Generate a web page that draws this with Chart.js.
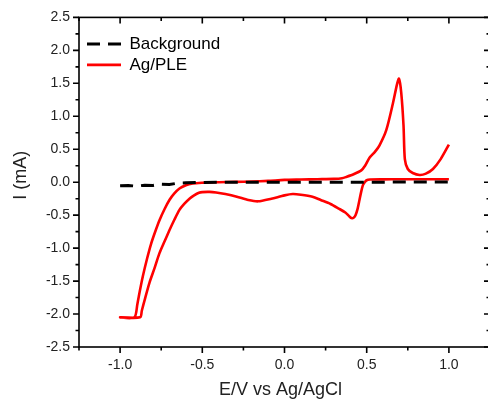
<!DOCTYPE html>
<html>
<head>
<meta charset="utf-8">
<script src="https://cdn.jsdelivr.net/npm/chart.js@4.4.1/dist/chart.umd.min.js"></script>
<style>
  html, body { margin: 0; padding: 0; overflow: hidden; background: #fff; }
  canvas { display: block; }
</style>
</head>
<body>
<canvas id="cv-chart" width="492" height="399"></canvas>
<script>
// Background scan (black dashed)
const backgroundPotential = [-1.0, -0.95, -0.9, -0.85, -0.8, -0.75, -0.7, -0.65, -0.6, -0.5, -0.25, 0.0, 0.25, 0.5, 0.75, 1.0];
const backgroundCurrent = [-0.055, -0.05, -0.06, -0.045, -0.05, -0.03, -0.035, -0.015, -0.01, -0.003, 0.0, 0.0, 0.0, 0.0, 0.002, 0.004];

// Ag/PLE scan, in recording order: cathodic sweep from +1.0 V, then anodic sweep back to +1.0 V
const agPotential = [
  1.0, 0.9, 0.8, 0.7, 0.6, 0.52, 0.5, 0.488, 0.477, 0.466, 0.456, 0.445, 0.432, 0.42, 0.408,
  0.395, 0.37, 0.33, 0.28, 0.22, 0.17, 0.1, 0.05, 0.0, -0.08, -0.16, -0.22, -0.29, -0.36, -0.416,
  -0.456, -0.5, -0.52, -0.55, -0.578, -0.61, -0.639, -0.67, -0.7, -0.73, -0.761, -0.79, -0.822,
  -0.85, -0.868, -0.878, -1.0,
  -0.913, -0.895, -0.88, -0.862, -0.835, -0.811, -0.785, -0.761, -0.73, -0.7, -0.67, -0.639,
  -0.6, -0.558, -0.5, -0.45, -0.4, -0.3, -0.2, -0.1, 0.0, 0.1, 0.2, 0.3, 0.35, 0.376, 0.42,
  0.467, 0.49, 0.517, 0.55, 0.578, 0.619, 0.659, 0.684, 0.696, 0.71, 0.724, 0.732, 0.75, 0.78,
  0.822, 0.86, 0.903, 0.95, 1.0
];
const agCurrent = [
  0.045, 0.045, 0.045, 0.045, 0.043, 0.04, 0.03, 0.0, -0.045, -0.15, -0.27, -0.4, -0.5, -0.54, -0.545,
  -0.52, -0.46, -0.4, -0.33, -0.27, -0.22, -0.19, -0.18, -0.2, -0.25, -0.29, -0.27, -0.22, -0.18, -0.156,
  -0.147, -0.15, -0.16, -0.2, -0.25, -0.33, -0.42, -0.57, -0.73, -0.9, -1.08, -1.3, -1.53,
  -1.78, -1.95, -2.05, -2.05,
  -2.05, -1.85, -1.65, -1.43, -1.15, -0.93, -0.74, -0.58, -0.41, -0.27, -0.17, -0.096,
  -0.045, -0.02, -0.008, -0.003, 0.0, 0.005, 0.01, 0.02, 0.035, 0.04, 0.045, 0.05, 0.06, 0.08, 0.12,
  0.18, 0.25, 0.37, 0.46, 0.56, 0.79, 1.19, 1.48, 1.57, 1.36, 0.86, 0.35, 0.2, 0.14,
  0.11, 0.13, 0.2, 0.35, 0.57
];

const xTicks = [-1.0, -0.5, 0.0, 0.5, 1.0];
const yTicks = [-2.5, -2.0, -1.5, -1.0, -0.5, 0.0, 0.5, 1.0, 1.5, 2.0, 2.5];

function toPoints(xs, ys) {
  return xs.map((x, i) => ({ x: x, y: ys[i] }));
}

const fontFamily = "Arial, 'Liberation Sans', sans-serif";

// draw an axis title a few pixels off its usual centre
function shiftTitle(scale, dx, dy) {
  scale.drawTitle = function () {
    const box = { left: this.left, right: this.right, top: this.top, bottom: this.bottom };
    this.left += dx; this.right += dx;
    this.top += dy; this.bottom += dy;
    Object.getPrototypeOf(this).drawTitle.call(this);
    Object.assign(this, box);
  };
}

// box around the plot with Origin-style ticks (out on left/bottom, in on top/right)
const framePlugin = {
  id: 'frame',
  afterLayout(chart) {
    shiftTitle(chart.scales.x, -4, 0);
    shiftTitle(chart.scales.y, 0, -7);
  },
  beforeDraw(chart) {
    // legend sits inside the plot, top-left
    const legend = chart.legend;
    legend.left = chart.chartArea.left + 4;
    legend.top = chart.chartArea.top + 14;
  },
  afterDatasetsDraw(chart) {
    const { ctx, chartArea: a, scales } = chart;
    const x = scales.x;
    const y = scales.y;
    ctx.save();
    ctx.strokeStyle = '#000';
    ctx.lineWidth = 1.6;
    ctx.strokeRect(a.left, a.top, a.right - a.left, a.bottom - a.top);

    ctx.beginPath();
    for (let i = -5; i <= 5; i++) {
      const px = x.getPixelForValue(i * 0.25);
      const len = i % 2 === 0 ? 6 : 3.5;
      ctx.moveTo(px, a.bottom);
      ctx.lineTo(px, a.bottom + len);
      ctx.moveTo(px, a.top);
      ctx.lineTo(px, a.top + len);
    }
    for (let i = -10; i <= 10; i++) {
      const py = y.getPixelForValue(i * 0.25);
      const len = i % 2 === 0 ? 6 : 3.5;
      ctx.moveTo(a.left, py);
      ctx.lineTo(a.left - len, py);
      ctx.moveTo(a.right, py);
      ctx.lineTo(a.right - len, py);
    }
    ctx.stroke();
    ctx.restore();
  }
};

const data = {
  datasets: [
    {
      label: 'Background',
      data: toPoints(backgroundPotential, backgroundCurrent),
      showLine: true,
      borderColor: '#000',
      backgroundColor: '#000',
      borderWidth: 3,
      borderDash: [13, 8],
      pointRadius: 0,
      tension: 0
    },
    {
      label: 'Ag/PLE',
      data: toPoints(agPotential, agCurrent),
      showLine: true,
      borderColor: '#ff0000',
      backgroundColor: '#ff0000',
      borderWidth: 2.6,
      pointRadius: 0,
      tension: 0.25
    }
  ]
};

// legend samples taken from the line style, not the (hidden) points
function lineLabels(chart) {
  return chart.data.datasets.map((ds, i) => ({
    text: ds.label,
    datasetIndex: i,
    hidden: false,
    strokeStyle: ds.borderColor,
    fillStyle: ds.borderColor,
    lineWidth: ds.borderWidth,
    lineDash: ds.borderDash || [],
    lineCap: 'butt',
    pointStyle: 'line',
    fontColor: '#000'
  }));
}

const config = {
  type: 'scatter',
  data: data,
  options: {
    responsive: false,
    animation: false,
    events: [],
    layout: { padding: { top: 17, right: 2, left: 0, bottom: 0 } },
    plugins: {
      legend: {
        position: 'chartArea',
        align: 'start',
        labels: {
          usePointStyle: true,
          pointStyle: 'line',
          pointStyleWidth: 34,
          padding: 4,
          color: '#000',
          font: { family: fontFamily, size: 17 },
          generateLabels: lineLabels
        }
      },
      tooltip: { enabled: false }
    },
    scales: {
      x: {
        type: 'linear',
        min: -1.25,
        max: 1.25,
        afterBuildTicks: scale => { scale.ticks = xTicks.map(v => ({ value: v })); },
        afterFit: scale => { scale.height = 52; },
        grid: { display: false, drawTicks: false },
        border: { display: false },
        ticks: {
          padding: 10,
          color: '#222',
          font: { family: fontFamily, size: 14 },
          callback: v => Number(v).toFixed(1)
        },
        title: {
          display: true,
          text: 'E/V vs Ag/AgCl',
          color: '#222',
          font: { family: fontFamily, size: 18 },
          padding: { top: 0, bottom: -2 }
        }
      },
      y: {
        type: 'linear',
        min: -2.5,
        max: 2.5,
        afterBuildTicks: scale => { scale.ticks = yTicks.map(v => ({ value: v })); },
        afterFit: scale => { scale.width = 79; },
        grid: { display: false, drawTicks: false },
        border: { display: false },
        ticks: {
          padding: 9,
          color: '#222',
          font: { family: fontFamily, size: 14 },
          callback: v => Number(v).toFixed(1)
        },
        title: {
          display: true,
          text: 'I (mA)',
          color: '#222',
          font: { family: fontFamily, size: 18 },
          padding: { top: 10, bottom: 0 }
        }
      }
    }
  },
  plugins: [framePlugin]
};

new Chart(document.getElementById('cv-chart'), config);
</script>
</body>
</html>
